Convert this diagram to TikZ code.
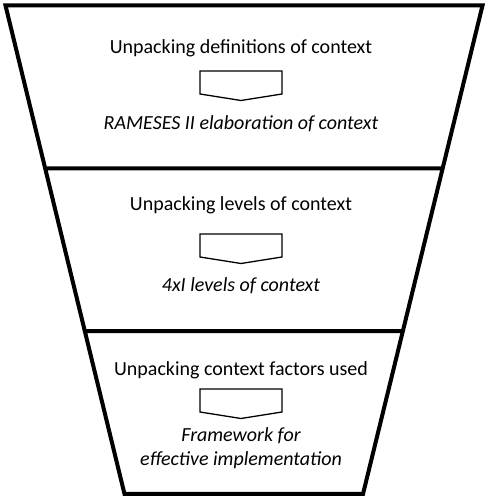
\documentclass[tikz,border=0pt]{standalone}
\usepackage{fontspec}
\setmainfont{Carlito}
\usetikzlibrary{calc}
\begin{document}
\begin{tikzpicture}[x=1bp, y=1bp, font=\fontsize{20bp}{24bp}\selectfont, line join=miter]
			\useasboundingbox (0,0) rectangle (488,500);
			\path (5.5,494.5) coordinate(A)
			--(482.5,494.5) coordinate(B)
			--(363,6) coordinate(C)
			--(124.5,6) coordinate(D)
			($(A)!1/3!(D)$) coordinate(E)
			($(B)!1/3!(C)$) coordinate(F)
			($(A)!2/3!(D)$) coordinate(G)
			($(B)!2/3!(C)$) coordinate(H)
			;
			\draw[line width=4bp] (A)--(B)--(C)--(D)--cycle (E)--(F) (G)--(H);
			\foreach \n/\ty/\ay/\iy/\t/\s in {1/452/429/376/{Unpacking definitions of context}/{RAMESES II elaboration of context},
				2/295/266/214/{Unpacking levels of context}/{4xI levels of context},
				3/130/111/52/{Unpacking context factors used}/{Framework for\\effective implementation}}{
				\node (T\n) at (241,\ty) {\t};
				\draw[line width=1.3bp] (200,\ay) coordinate(P\n) --(282,\ay) --(282,\ay-23) --(241,\ay-29.5) --(200,\ay-23) --cycle;
				\node[align=center, font=\fontsize{20bp}{24bp}\selectfont\itshape] (S\n) at (241,\iy) {\s};}
			\end{tikzpicture}
\end{document}
